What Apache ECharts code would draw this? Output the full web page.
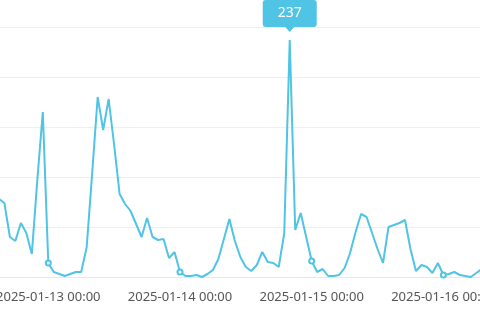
<!DOCTYPE html>
<html>
<head>
<meta charset="utf-8">
<script src="https://cdn.jsdelivr.net/npm/echarts@6/dist/echarts.min.js"></script>
<style>html,body{margin:0;padding:0;background:#fff}#c{width:480px;height:320px}</style>
</head>
<body>
<div id="c"></div>
<script>
// hourly series starting 2025-01-12 15:00
const startTime = '2025-01-12 15:00';
const hourCount = 89;
const values = [
  78, 74, 40, 36, 54, 44, 23, 97, 165,
  14, 5, 3, 1, 3, 5, 5, 30, 104, 180, 147, 178, 132,
  83, 73, 66, 53, 40, 59, 40, 37, 38, 19, 25, 5, 1, 1, 2, 0,
  3, 7, 18, 38, 58, 36, 20, 10, 6, 12, 25, 15, 14, 10, 44, 237, 47, 64, 40, 16, 5, 8, 1, 1, 2, 9, 24, 45,
  63, 60, 44, 28, 14, 50, 52, 54, 57, 28, 6, 12, 10, 4, 14, 2, 3, 5, 2, 1, 0, 4, 8
];
const yTicks = [0, 50, 100, 150, 200, 250];

function pad(n){return (n<10?'0':'')+n;}
const categories = [];
(function(){
  const d0 = new Date(startTime.replace(' ', 'T') + ':00Z');
  for (let i = 0; i < hourCount; i++) {
    const d = new Date(d0.getTime() + i * 3600000);
    categories.push(d.getUTCFullYear() + '-' + pad(d.getUTCMonth()+1) + '-' + pad(d.getUTCDate()) + ' ' + pad(d.getUTCHours()) + ':00');
  }
})();

const lineColor = '#4fc4e4';
const chart = echarts.init(document.getElementById('c'), null, {renderer: 'canvas'});
chart.setOption({
  animation: false,
  grid: {left: -1.1, right: -1.8, top: 27, bottom: 43, containLabel: false, outerBoundsMode: 'none'},
  xAxis: {
    type: 'category',
    data: categories,
    boundaryGap: false,
    axisLine: {lineStyle: {color: '#e8e8e8'}},
    axisTick: {show: false},
    axisLabel: {
      interval: function(i, v){ return v.slice(11) === '00:00'; },
      color: '#555',
      fontSize: 13,
      fontFamily: 'Noto Sans',
      margin: 14,
      hideOverlap: false
    }
  },
  yAxis: {
    type: 'value',
    min: yTicks[0],
    max: yTicks[yTicks.length-1],
    interval: yTicks[1] - yTicks[0],
    axisLabel: {show: false},
    axisLine: {show: false},
    axisTick: {show: false},
    splitLine: {lineStyle: {color: '#eeeeee'}}
  },
  series: [{
    type: 'line',
    data: values,
    symbol: 'emptyCircle',
    symbolSize: 5,
    lineStyle: {color: lineColor, width: 2},
    itemStyle: {color: lineColor},
    markPoint: {
      data: [{type: 'max'}],
      symbol: 'path://M3,0 H51 Q54,0 54,3 V24 Q54,27 51,27 H31.5 L27,32 L22.5,27 H3 Q0,27 0,24 V3 Q0,0 3,0 Z',
      symbolSize: [54, 32],
      symbolKeepAspect: false,
      symbolOffset: [0, -24],
      itemStyle: {color: lineColor},
      label: {color: '#fff', fontSize: 14, fontFamily: 'Noto Sans', offset: [0, -2.5]}
    }
  }]
});
</script>
</body>
</html>
